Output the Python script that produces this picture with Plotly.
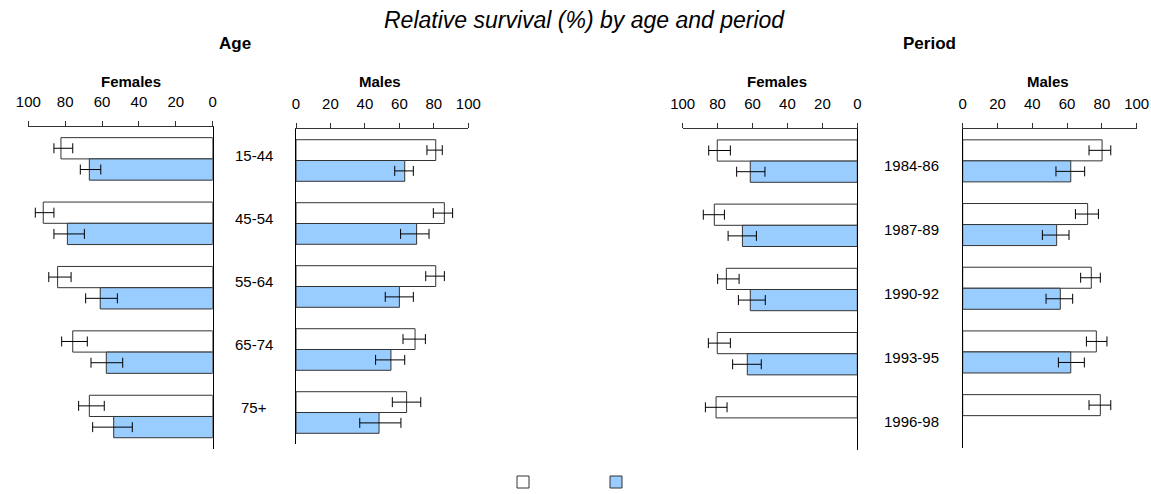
import plotly.graph_objects as go

# ---------------- data ----------------
age_groups = ["15-44", "45-54", "55-64", "65-74", "75+"]
periods = ["1984-86", "1987-89", "1990-92", "1993-95", "1996-98"]

# Age, Females
age_f_white = [82.3, 91.9, 84.1, 75.9, 66.9]
age_f_white_hi = [86.1, 96.2, 88.9, 81.9, 72.7]
age_f_white_lo = [75.9, 86.1, 76.8, 68.0, 58.8]
age_f_blue = [66.9, 78.8, 61.0, 57.7, 53.7]
age_f_blue_hi = [71.8, 86.1, 68.9, 66.0, 65.1]
age_f_blue_lo = [60.7, 69.6, 51.7, 48.8, 43.6]

# Age, Males
age_m_white = [81.1, 86.1, 81.1, 69.1, 64.2]
age_m_white_hi = [84.9, 90.9, 86.1, 75.1, 72.4]
age_m_white_lo = [76.0, 79.7, 75.3, 62.1, 55.9]
age_m_blue = [63.1, 70.0, 60.0, 55.1, 48.2]
age_m_blue_hi = [68.1, 77.2, 68.1, 63.1, 60.9]
age_m_blue_lo = [57.3, 60.7, 51.8, 46.2, 37.0]

# Period, Females
per_f_white = [80.2, 81.9, 75.0, 80.2, 80.9]
per_f_white_hi = [85.1, 88.2, 80.0, 85.3, 87.0]
per_f_white_lo = [72.7, 76.1, 67.7, 72.7, 74.6]
per_f_blue = [61.3, 65.8, 61.3, 63.0, None]
per_f_blue_hi = [69.1, 74.0, 68.1, 71.4, None]
per_f_blue_lo = [52.9, 57.8, 52.7, 55.0, None]

# Period, Males
per_m_white = [80.1, 71.8, 73.9, 76.8, 79.1]
per_m_white_hi = [85.1, 78.0, 79.1, 82.9, 85.1]
per_m_white_lo = [72.6, 64.8, 67.8, 71.1, 72.6]
per_m_blue = [62.1, 54.0, 56.1, 62.1, None]
per_m_blue_hi = [70.1, 61.1, 63.2, 69.9, None]
per_m_blue_lo = [53.6, 45.8, 47.9, 55.0, None]

x_ticks = [0, 20, 40, 60, 80, 100]

# ---------------- styling ----------------
WHITE = "#FFFFFF"
BLUE = "#99CCFF"
OUTLINE = "#333333"
FONT = "Liberation Sans, Arial, sans-serif"


def plus(hi, v):
    return [None if (h is None or x is None) else h - x for h, x in zip(hi, v)]


def minus(lo, v):
    return [None if (l is None or x is None) else x - l for l, x in zip(lo, v)]


fig = go.Figure()


def add_pair(cats, w, whi, wlo, b, bhi, blo, xa, ya, show):
    fig.add_trace(go.Bar(
        y=cats, x=w, orientation="h", xaxis=xa, yaxis=ya,
        marker=dict(color=WHITE, line=dict(color=OUTLINE, width=1)),
        error_x=dict(type="data", symmetric=False, array=plus(whi, w),
                     arrayminus=minus(wlo, w), color="#000000",
                     thickness=1, width=5),
        name=" ", legendgroup="w", showlegend=show,
    ))
    fig.add_trace(go.Bar(
        y=cats, x=b, orientation="h", xaxis=xa, yaxis=ya,
        marker=dict(color=BLUE, line=dict(color=OUTLINE, width=1)),
        error_x=dict(type="data", symmetric=False, array=plus(bhi, b),
                     arrayminus=minus(blo, b), color="#000000",
                     thickness=1, width=5),
        name="  ", legendgroup="b", showlegend=show,
    ))


add_pair(age_groups, age_f_white, age_f_white_hi, age_f_white_lo,
         age_f_blue, age_f_blue_hi, age_f_blue_lo, "x", "y", True)
add_pair(age_groups, age_m_white, age_m_white_hi, age_m_white_lo,
         age_m_blue, age_m_blue_hi, age_m_blue_lo, "x2", "y2", False)
add_pair(periods, per_f_white, per_f_white_hi, per_f_white_lo,
         per_f_blue, per_f_blue_hi, per_f_blue_lo, "x3", "y3", False)
add_pair(periods, per_m_white, per_m_white_hi, per_m_white_lo,
         per_m_blue, per_m_blue_hi, per_m_blue_lo, "x4", "y4", False)

W, H = 1151, 494


def px_x(p):
    return p / W


def px_y(p):
    return 1 - p / H


def xaxis_def(domain, reverse, anchor):
    return dict(
        domain=domain, anchor=anchor, side="top",
        range=[100, 0] if reverse else [0, 100],
        tickvals=x_ticks, ticks="outside", ticklen=5, tickcolor=OUTLINE,
        ticklabelstandoff=8,
        showline=True, linecolor=OUTLINE, linewidth=1, automargin=False,
        showgrid=False, zeroline=False, fixedrange=True,
        tickfont=dict(size=15, color="#000000", family=FONT),
    )


def yaxis_def(domain, anchor, side):
    return dict(
        domain=domain, anchor=anchor, side=side, type="category",
        range=[4.5, -0.5], showticklabels=False, ticks="", automargin=False,
        showline=True, linecolor="#000000", linewidth=1,
        showgrid=False, zeroline=False, fixedrange=True,
    )


layout = dict(
    width=W, height=H,
    margin=dict(l=0, r=0, t=0, b=0, autoexpand=False),
    paper_bgcolor="white", plot_bgcolor="white",
    barmode="group", bargap=0.34, bargroupgap=0,
    font=dict(family=FONT, color="#000000"),
    xaxis=xaxis_def([px_x(28.3), px_x(212.7)], True, "y"),
    xaxis2=xaxis_def([px_x(296), px_x(468.3)], False, "y2"),
    xaxis3=xaxis_def([px_x(682.7), px_x(857.3)], True, "y3"),
    xaxis4=xaxis_def([px_x(962.7), px_x(1136.7)], False, "y4"),
    yaxis=yaxis_def([px_y(448.7), px_y(126.7)], "x", "right"),
    yaxis2=yaxis_def([px_y(444), px_y(129)], "x2", "left"),
    yaxis3=yaxis_def([px_y(450), px_y(129)], "x3", "right"),
    yaxis4=yaxis_def([px_y(447.5), px_y(129)], "x4", "left"),
    legend=dict(orientation="h", x=px_x(503), xanchor="left", y=px_y(482),
                yanchor="middle", entrywidth=48, itemwidth=30,
                font=dict(size=12, family=FONT), bgcolor="rgba(0,0,0,0)"),
    showlegend=True,
)
fig.update_layout(**layout)

annotations = [
    dict(text="<i>Relative survival (%) by age and period</i>", x=px_x(584),
         y=px_y(19.5), font=dict(size=23)),
    dict(text="<b>Age</b>", x=px_x(235.5), y=px_y(43.2), font=dict(size=17)),
    dict(text="<b>Period</b>", x=px_x(929), y=px_y(43.2), font=dict(size=17)),
    dict(text="<b>Females</b>", x=px_x(131), y=px_y(81.5), font=dict(size=15)),
    dict(text="<b>Males</b>", x=px_x(380), y=px_y(81.5), font=dict(size=15)),
    dict(text="<b>Females</b>", x=px_x(776.7), y=px_y(81.5), font=dict(size=15)),
    dict(text="<b>Males</b>", x=px_x(1047.5), y=px_y(81.5), font=dict(size=15)),
]
for a in annotations:
    a.update(xref="paper", yref="paper", showarrow=False,
             xanchor="center", yanchor="middle")
    a["font"].update(family=FONT, color="#000000")
fig.update_layout(annotations=annotations)

for g in age_groups:
    fig.add_annotation(text=g, xref="paper", yref="y2", x=px_x(254), y=g,
                       yshift=5, showarrow=False, xanchor="center",
                       yanchor="middle", font=dict(size=15, family=FONT, color="#000000"))
for p in periods:
    fig.add_annotation(text=p, xref="paper", yref="y3", x=px_x(911.7), y=p,
                       yshift=-4, showarrow=False, xanchor="center",
                       yanchor="middle", font=dict(size=15, family=FONT, color="#000000"))

fig.write_html(
    "out.html",
    config={"displayModeBar": False},
    post_script="document.body.style.margin='0px';document.body.style.padding='0px';",
)
